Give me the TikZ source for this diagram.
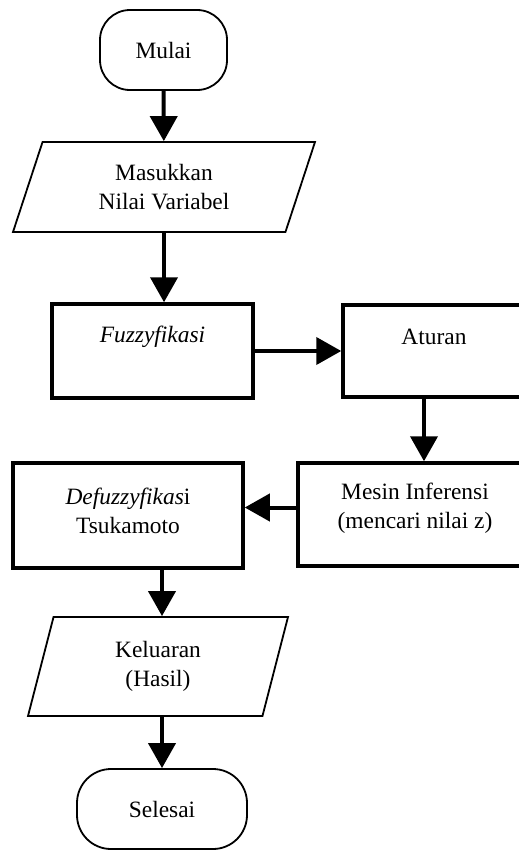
\documentclass[tikz,border=0pt]{standalone}
\usepackage{fontspec}
\setmainfont{Liberation Serif}
\usetikzlibrary{shapes.geometric,arrows.meta}

\begin{document}
\begin{tikzpicture}[x=1bp, y=-1bp,
	every node/.style={font=\fontsize{23.5}{29}\selectfont, align=center, inner sep=0pt},
	terminal/.style={draw=black, line width=1.8bp, rounded corners=30bp},
	io/.style={draw=black, line width=1.8bp, trapezium, trapezium stretches body},
	proc/.style={draw=black, line width=3.5bp},
	arr/.style={draw=black, line width=4bp, -{Triangle[length=25bp,width=27bp]}}]
			\fill[white] (0,0) rectangle (519,850);
			\clip (0,0) rectangle (519,850);
			
			\node[terminal, minimum width=127bp, minimum height=80bp] (mulai) at (163.5,50) {Mulai};
			\node[io, trapezium left angle=57, trapezium right angle=123, minimum width=302bp, minimum height=90bp] (masuk) at (164,187) {Masukkan\\Nilai Variabel};
			\node[proc, minimum width=201bp, minimum height=94bp, label={[yshift=14bp]center:\textit{Fuzzyfikasi}}] (fuzzy) at (152.5,351) {};
			\node[proc, minimum width=182bp, minimum height=92bp, label={[yshift=14bp]center:Aturan}] (aturan) at (434,351) {};
			\node[proc, minimum width=234bp, minimum height=103bp, label={[yshift=6bp]center:Mesin Inferensi\\(mencari nilai z)}] (mesin) at (415,514.5) {};
			\node[proc, minimum width=230bp, minimum height=105bp, label={[yshift=5bp]center:\textit{Defuzzyfikas}i\\Tsukamoto}] (defuzzy) at (128,515.5) {};
			\node[io, trapezium left angle=63, trapezium right angle=117, minimum width=260bp, minimum height=99bp] (keluar) at (158,666.5) {Keluaran\\(Hasil)};
			\node[terminal, rounded corners=34bp, minimum width=170bp, minimum height=80bp] (selesai) at (162,809) {Selesai};
			
			\draw[arr] (mulai) -- (masuk);
			\draw[arr] (masuk.south) -- (masuk.south |- fuzzy.north);
			\draw[arr] (fuzzy.east) -- (aturan.west);
			\draw[arr] ([xshift=-10bp]aturan.south) -- ([xshift=-10bp]aturan.south |- mesin.north);
			\draw[arr] ([yshift=7bp]mesin.west) -- ([yshift=7bp]mesin.west -| defuzzy.east);
			\draw[arr] (defuzzy.south -| selesai.north) -- (keluar.north -| selesai.north);
			\draw[arr] (keluar.south -| selesai.north) -- (selesai.north);
			\end{tikzpicture}
\end{document}
